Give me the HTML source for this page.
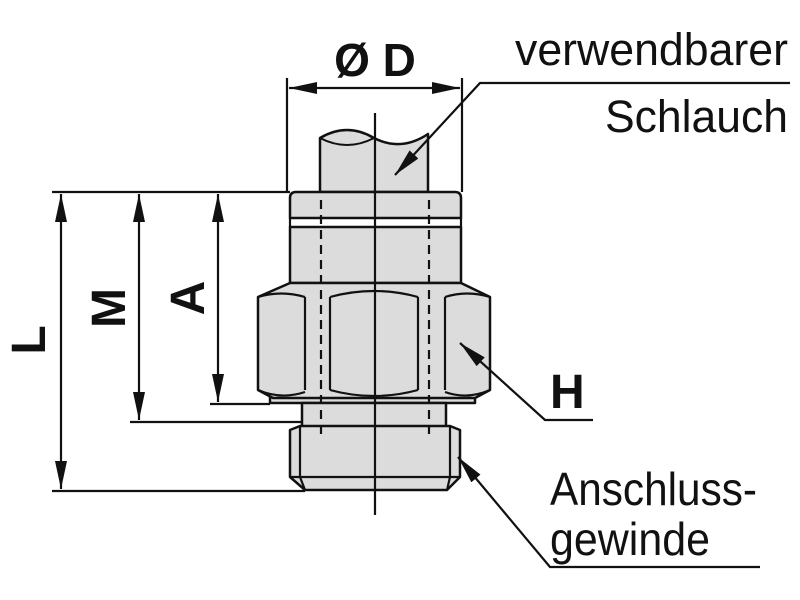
<!DOCTYPE html>
<html><head><meta charset="utf-8"><style>html,body{margin:0;padding:0;background:#fff}svg{display:block}</style></head>
<body>
<svg width="800" height="600" viewBox="0 0 800 600" xmlns="http://www.w3.org/2000/svg" font-family="Liberation Sans, Arial, sans-serif">
<defs>
<marker id="ar" viewBox="0 0 28 12" refX="28" refY="6" markerWidth="28" markerHeight="12" markerUnits="userSpaceOnUse" orient="auto-start-reverse">
<path d="M0,0 L28,6 L0,12 z" fill="#111"/></marker>
</defs>
<g stroke="#111" stroke-width="2.5" fill="#dcdcdc" stroke-linejoin="round">
<!-- tube -->
<path d="M320,192 L320,138 Q347,122 374,138 Q401,152 428,134 L428,192 Z"/>
<!-- cap -->
<path d="M296,192 L455,192 Q461,192 461,198 L461,218 L290,218 L290,198 Q290,192 296,192 Z"/>
<!-- body -->
<rect x="290" y="227" width="171" height="56"/>
<!-- flange below hex -->
<rect x="270" y="397" width="205" height="6"/>
<!-- neck -->
<rect x="302" y="403" width="144" height="24"/>
<!-- hex -->
<path d="M290,283 L461,283 L490,297 L490,390 L475,398 L273,398 L258,390 L258,297 Z"/>
<!-- thread -->
<path d="M300,426 L450,426 L460,430 L460,477 L447,490 L305,490 L290,477 L290,430 Z"/>
</g>
<g stroke="#111" stroke-width="2.2" fill="none">
<path d="M320,138 Q347,152 374,138" stroke-width="2"/>
<line x1="290" y1="218" x2="290" y2="227"/><line x1="461" y1="218" x2="461" y2="227"/>
<path d="M305,297 L305,390 M330,297 L330,390 M418,297 L418,390 M445,297 L445,390"/>
<path d="M258,297 Q281,290 305,297 M330,297 Q374,285 418,297 M445,297 Q467,290 490,297"/>
<path d="M258,390 Q281,400 305,392 M330,390 Q374,402 418,390 M445,392 Q467,400 490,390"/>
<path d="M300,426 L300,477 L305,490 M450,426 L450,477 L447,490 M290,477 L460,477"/>
<path d="M321,200 L321,440 M429,200 L429,440" stroke-dasharray="9,6"/>
<line x1="375" y1="113" x2="375" y2="515"/>
<!-- D dimension -->
<line x1="287" y1="78" x2="287" y2="192"/><line x1="462" y1="78" x2="462" y2="192"/>
<line x1="289" y1="88" x2="460" y2="88" marker-start="url(#ar)" marker-end="url(#ar)"/>
<!-- left dims -->
<line x1="52" y1="192" x2="290" y2="192"/>
<line x1="210" y1="404" x2="270" y2="404"/>
<line x1="130" y1="422" x2="302" y2="422"/>
<line x1="52" y1="491" x2="305" y2="491"/>
<line x1="61" y1="194" x2="61" y2="489" marker-start="url(#ar)" marker-end="url(#ar)"/>
<line x1="139" y1="194" x2="139" y2="420" marker-start="url(#ar)" marker-end="url(#ar)"/>
<line x1="218" y1="194" x2="218" y2="402" marker-start="url(#ar)" marker-end="url(#ar)"/>
<!-- leaders -->
<path d="M790,83 L480,83 L395,175" marker-end="url(#ar)"/>
<path d="M593,420 L545,420 L460,343" marker-end="url(#ar)"/>
<path d="M760,567 L550,567 L458,457" marker-end="url(#ar)"/>
</g>
<g fill="#111">
<text x="375" y="76" font-size="46" font-weight="bold" text-anchor="middle">Ø D</text>
<text x="788" y="65" font-size="45" text-anchor="end" textLength="273" lengthAdjust="spacingAndGlyphs">verwendbarer</text>
<text x="788" y="132" font-size="45" text-anchor="end" textLength="183" lengthAdjust="spacingAndGlyphs">Schlauch</text>
<text x="550" y="408" font-size="48" font-weight="bold">H</text>
<text x="550" y="505" font-size="46" textLength="207" lengthAdjust="spacingAndGlyphs">Anschluss-</text>
<text x="550" y="555" font-size="46" textLength="160" lengthAdjust="spacingAndGlyphs">gewinde</text>
<text transform="translate(45,340) rotate(-90)" font-size="48" font-weight="bold" text-anchor="middle">L</text>
<text transform="translate(125,308) rotate(-90)" font-size="48" font-weight="bold" text-anchor="middle">M</text>
<text transform="translate(204,298) rotate(-90)" font-size="48" font-weight="bold" text-anchor="middle">A</text>
</g>
</svg>
</body></html>
